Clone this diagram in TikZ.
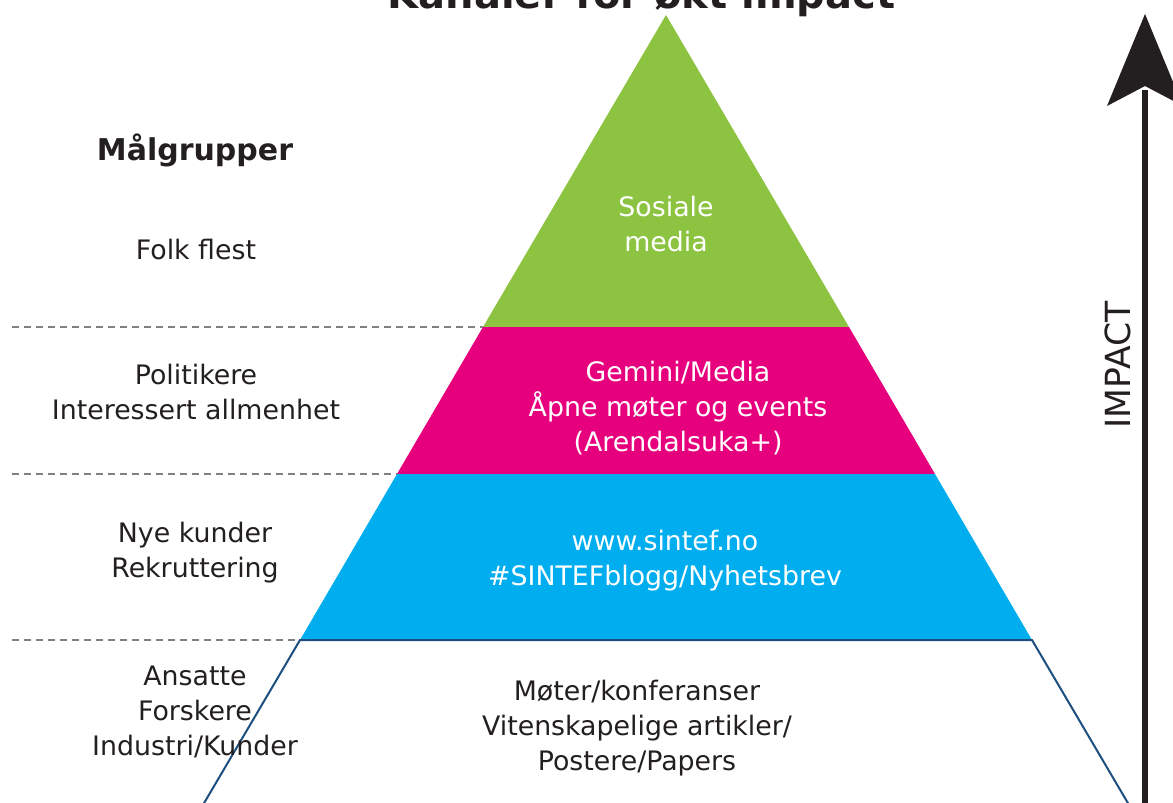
\documentclass[tikz,border=0pt]{standalone}
\usepackage{fontspec}
\setmainfont{DejaVu Sans}
\definecolor{lgreen}{RGB}{140,195,64}
\definecolor{lpink}{RGB}{230,0,126}
\definecolor{lblue}{RGB}{0,174,239}
\definecolor{lnavy}{RGB}{28,78,128}
\definecolor{ltext}{RGB}{35,31,32}
\definecolor{ldash}{RGB}{128,128,128}
\begin{document}
\begin{tikzpicture}[x=1pt,y=-1pt,
  lbl/.style={font=\fontsize{26.8}{35}\selectfont, text=ltext, align=center, inner sep=0pt, anchor=north},
  wlbl/.style={lbl, text=white},
  sepline/.style={ldash, line width=1.3pt, dash pattern=on 7pt off 5pt},
  outline/.style={lnavy, line width=2pt}]
\useasboundingbox (0,0) rectangle (1173,803);
% pyramid corners
\coordinate (apex) at (666,15);
\coordinate (gL) at (483,327);  \coordinate (gR) at (849,327);
\coordinate (pL) at (397,474);  \coordinate (pR) at (935,474);
\coordinate (bL) at (300,640);  \coordinate (bR) at (1032,640);
\coordinate (wL) at (200,810);  \coordinate (wR) at (1132,810);
% bands
\fill[lgreen] (apex) -- (gR) -- (gL) -- cycle;
\fill[lpink] (gL) -- (gR) -- (pR) -- (pL) -- cycle;
\fill[lblue] (pL) -- (pR) -- (bR) -- (bL) -- cycle;
\draw[outline] (wL) -- (bL) -- (bR) -- (wR);
% dashed separators
\coordinate (d1) at (12,327); \coordinate (d2) at (12,474); \coordinate (d3) at (12,640);
\draw[sepline] (d1) -- (gL);
\draw[sepline] (d2) -- (pL);
\draw[sepline] (d3) -- (bL);
% title (cut by the page, as in the reference)
\node[font=\fontsize{40}{48}\selectfont\bfseries, text=ltext, anchor=base, inner sep=0pt] (title) at (641.5,9) {Kanaler for økt impact};
% left labels
\node[font=\fontsize{30}{36}\selectfont\bfseries, text=ltext, anchor=north, inner sep=0pt] (mal) at (195,134) {Målgrupper};
\node[lbl] (folk) at (196,239) {Folk flest};
\node[lbl] (pol) at (196,364) {Politikere\\Interessert allmenhet};
\node[lbl] (nye) at (195,522) {Nye kunder\\Rekruttering};
\node[lbl] (ans) at (195,666) {Ansatte\\Forskere\\Industri/Kunder};
% pyramid labels
\node[wlbl] (sos) at (666,196) {Sosiale\\media};
\node[wlbl] (gem) at (678,361) {Gemini/Media\\Åpne møter og events\\(Arendalsuka+)};
\node[wlbl] (www) at (665,530) {www.sintef.no\\\#SINTEFblogg/Nyhetsbrev};
\node[lbl] (mot) at (637,680) {Møter/konferanser\\Vitenskapelige artikler/\\Postere/Papers};
% impact arrow
\coordinate (arrBot) at (1145,810);
\coordinate (arrNeck) at (1145,90);
\draw[ltext, line width=5.5pt] (arrBot) -- (arrNeck);
\fill[ltext] (1145,14) -- (1183,106) -- (1145,86) -- (1107,106) -- cycle;
\node[font=\fontsize{34.6}{40}\selectfont, text=ltext, rotate=90, inner sep=0pt] (imp) at (1118,365) {IMPACT};
\end{tikzpicture}
\end{document}
